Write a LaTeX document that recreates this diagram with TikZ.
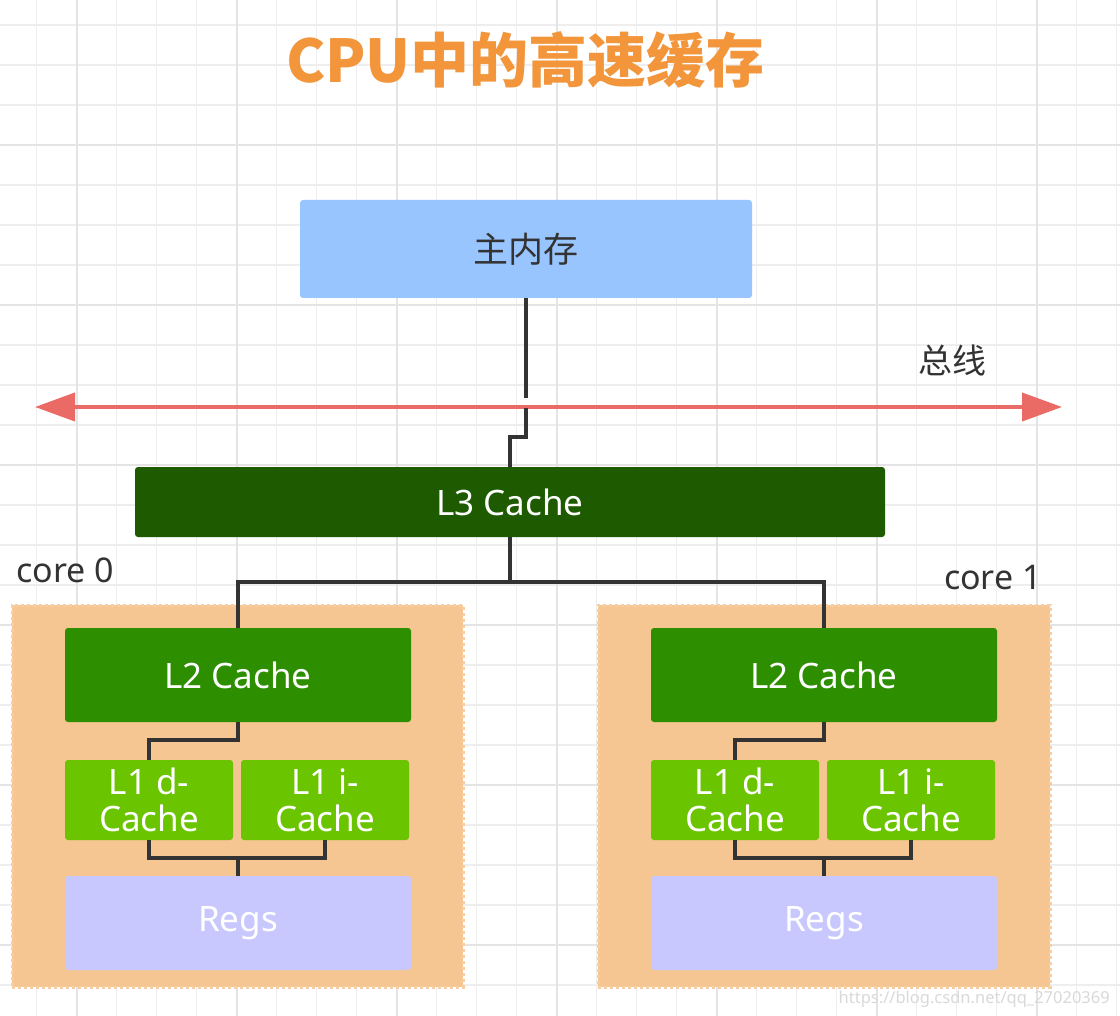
\documentclass[tikz,border=0pt]{standalone}
\usepackage{fontspec}
\setmainfont{Noto Sans}
\newfontfamily\cjk{Noto Sans CJK SC}
\usetikzlibrary{arrows.meta}
\definecolor{memblue}{HTML}{99C5FF}
\definecolor{lthree}{HTML}{1E5B00}
\definecolor{ltwo}{HTML}{2D8E00}
\definecolor{lone}{HTML}{6AC400}
\definecolor{regs}{HTML}{C8C8FF}
\definecolor{corebg}{HTML}{F5C592}
\definecolor{titleor}{HTML}{F2953B}
\definecolor{busred}{HTML}{EA6B66}
\definecolor{wire}{HTML}{333333}
\definecolor{txt}{HTML}{333333}
\definecolor{gridmin}{HTML}{EEEEEE}
\definecolor{gridmaj}{HTML}{E4E4E4}
\tikzset{
  gridminor/.style={draw=gridmin, line width=1.3pt},
  gridmajor/.style={draw=gridmaj, line width=2pt},
  box/.style={rounded corners=3pt, inner sep=0pt, align=center,
    font=\fontsize{35}{39}\selectfont},
  darkbox/.style={box, text=white},
  corebox/.style={fill=corebg, draw=corebg!85!white, line width=3pt,
    dash pattern=on 3pt off 3pt, inner sep=0pt},
  wire/.style={draw=wire, line width=3.6pt},
  bus/.style={draw=busred, line width=4pt,
    {Triangle[length=40pt,width=28pt]}-{Triangle[length=40pt,width=28pt]}},
  lbl/.style={text=txt, inner sep=0pt, font=\fontsize{34}{38}\selectfont},
}
\begin{document}
\begin{tikzpicture}[x=1pt,y=-1pt]
\useasboundingbox (0,0) rectangle (1120,1016);
\fill[white] (0,0) rectangle (1120,1016);
% grid
\foreach \i in {0,...,27} \draw[gridminor] ({36.7+40*\i},0) -- ({36.7+40*\i},1016);
\foreach \j in {0,...,24} \draw[gridminor] (0,{25+40*\j}) -- (1120,{25+40*\j});
\foreach \i in {0,...,6} \draw[gridmajor] ({76.7+160*\i},0) -- ({76.7+160*\i},1016);
\foreach \j in {0,...,5} \draw[gridmajor] (0,{145+160*\j}) -- (1120,{145+160*\j});

% title
\node[text=titleor, inner sep=0pt, font=\cjk\bfseries\fontsize{59}{63}\selectfont] (title) at (525.5,60) {CPU中的高速缓存};

% main memory
\node[box, fill=memblue, text=txt, minimum width=452pt, minimum height=98pt] (mem) at (526,249) {\cjk 主内存};

% bus
\coordinate (busL) at (35,407);
\coordinate (busR) at (1062,407);
\draw[bus] (busL) -- (busR);
\node[lbl] (buslbl) at (952,360) {\cjk 总线};

% L3
\node[darkbox, fill=lthree, minimum width=750pt, minimum height=70pt] (L3) at (510,502) {L3 Cache};

% core containers
\node[corebox, minimum width=451pt, minimum height=382pt] (core0) at (237.5,796) {};
\node[corebox, minimum width=452pt, minimum height=382pt] (core1) at (824,796) {};
\node[lbl, anchor=west] (core0lbl) at (16,570) {core 0};
\node[lbl, anchor=east] (core1lbl) at (1042,578) {core 1};

% core 0 boxes
\node[darkbox, fill=ltwo, minimum width=346pt, minimum height=94pt] (L2a) at (238,675) {L2 Cache};
\node[darkbox, fill=lone, minimum width=168pt, minimum height=80pt] (L1da) at (149,800) {L1 d-\\[-2pt]Cache};
\node[darkbox, fill=lone, minimum width=168pt, minimum height=80pt] (L1ia) at (325,800) {L1 i-\\[-2pt]Cache};
\node[darkbox, fill=regs, minimum width=346pt, minimum height=94pt] (Rega) at (238,923) {Regs};

% core 1 boxes
\node[darkbox, fill=ltwo, minimum width=346pt, minimum height=94pt] (L2b) at (824,675) {L2 Cache};
\node[darkbox, fill=lone, minimum width=168pt, minimum height=80pt] (L1db) at (735,800) {L1 d-\\[-2pt]Cache};
\node[darkbox, fill=lone, minimum width=168pt, minimum height=80pt] (L1ib) at (911,800) {L1 i-\\[-2pt]Cache};
\node[darkbox, fill=regs, minimum width=346pt, minimum height=94pt] (Regb) at (824,923) {Regs};

% connectors: memory to L3 (with gap at the bus)
\coordinate (gapTop) at (526,398);
\coordinate (gapBot) at (526,408);
\coordinate (jog) at (526,437);
\draw[wire] (mem.south) -- (gapTop);
\draw[wire] (gapBot) -- (jog) -| (L3.north);

% L3 to L2s
\coordinate (split) at (510,582);
\draw[wire] (L3.south) -- (split) -| (L2a.north);
\draw[wire] (split) -| (L2b.north);

% core 0 internal
\coordinate (ja) at (238,740);
\draw[wire] (L2a.south) -- (ja) -| (L1da.north);
\coordinate (ka) at (149,858);
\coordinate (ma) at (238,858);
\draw[wire] (L1da.south) -- (ka) -| (L1ia.south);
\draw[wire] (ma) -- (Rega.north);

% core 1 internal
\coordinate (jb) at (824,740);
\draw[wire] (L2b.south) -- (jb) -| (L1db.north);
\coordinate (kb) at (735,858);
\coordinate (mb) at (824,858);
\draw[wire] (L1db.south) -- (kb) -| (L1ib.south);
\draw[wire] (mb) -- (Regb.north);

% watermark
\node[text=black!15, inner sep=0pt, anchor=base east, font=\fontsize{16.5}{18}\selectfont] (wm) at (1110,1003) {https://blog.csdn.net/qq\_27020369};
\end{tikzpicture}
\end{document}
